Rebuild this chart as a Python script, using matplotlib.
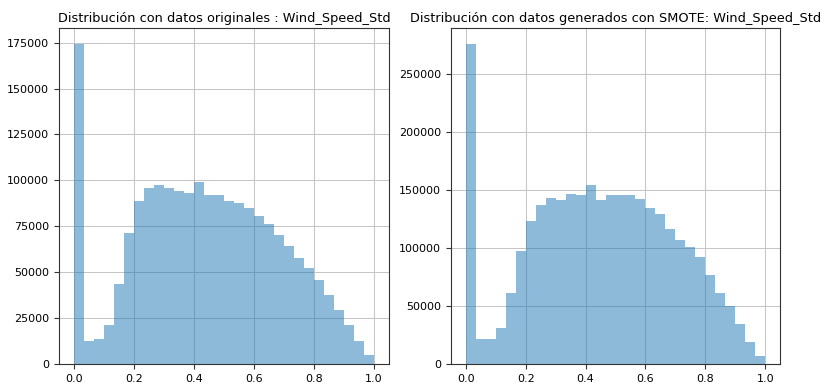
import matplotlib
matplotlib.use('Agg')
import matplotlib.pyplot as plt
import numpy as np

# 30 bins between 0 and 1
bin_edges = np.linspace(0, 1, 31)
bin_centers = (bin_edges[:-1] + bin_edges[1:]) / 2

counts_original = [174500, 12500, 13500, 21000, 43800, 71300, 88500, 96000, 97600, 96000,
                   94200, 93000, 99200, 92200, 91800, 88700, 87800, 84700, 80400, 76500,
                   70400, 64400, 57600, 52500, 45500, 37500, 29600, 21300, 12700, 4900]
counts_smote = [276500, 21200, 22000, 31200, 61000, 97900, 123000, 137400, 142900, 141400,
                146900, 146000, 154600, 141700, 145700, 145700, 145400, 142300, 134600, 129400,
                116800, 107400, 101300, 92200, 76400, 61500, 49800, 34900, 19200, 6900]

title_original = 'Distribución con datos originales : Wind_Speed_Std'
title_smote = 'Distribución con datos generados con SMOTE: Wind_Speed_Std'

fig = plt.figure(figsize=(8.27, 3.87), dpi=100)
ax1 = fig.add_axes([0.0713, 0.0594, 0.399, 0.8695])
ax2 = fig.add_axes([0.5453, 0.0594, 0.398, 0.8695])

for ax, counts, title in [(ax1, counts_original, title_original),
                          (ax2, counts_smote, title_smote)]:
    ax.hist(bin_centers, bins=bin_edges, weights=counts, alpha=0.5, color='#1f77b4')
    ax.grid(True, color='#c4c4c4', linewidth=0.7)
    ax.set_axisbelow(True)
    ax.set_xticks([0.0, 0.2, 0.4, 0.6, 0.8, 1.0])
    ax.tick_params(labelsize=8, color='#333333')
    for s in ax.spines.values():
        s.set_color('#333333')
    ax.set_title(title, fontsize=9.3, pad=4)

plt.savefig('out.png', dpi=100)
